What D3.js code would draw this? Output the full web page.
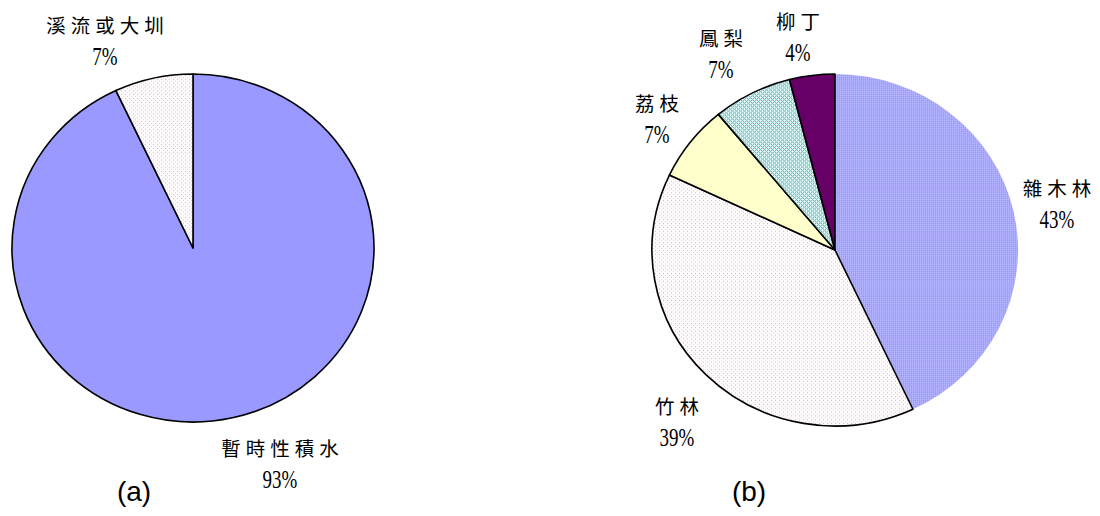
<!DOCTYPE html>
<html>
<head>
<meta charset="utf-8">
<script src="https://cdn.jsdelivr.net/npm/d3@7"></script>
<style>
  body { margin: 0; background: #fff; }
  svg { display: block; }
</style>
</head>
<body>
<svg id="chart" width="1100" height="516"></svg>
<script>
// chart (a)
const namesA = ['暫時性積水', '溪流或大圳'];
const valuesA = [93, 7];
// chart (b)
const namesB = ['雜木林', '竹林', '荔枝', '鳳梨', '柳丁'];
const valuesB = [43, 39, 7, 7, 4];

const svg = d3.select('#chart');
const defs = svg.append('defs');

// dotted fills, like the old office-chart textures
function dotPattern(id, bg, dots, size) {
  const p = defs.append('pattern')
    .attr('id', id)
    .attr('patternUnits', 'userSpaceOnUse')
    .attr('width', size)
    .attr('height', size);
  p.append('rect').attr('width', size).attr('height', size).attr('fill', bg);
  dots.forEach(d => {
    p.append('rect').attr('x', d[0]).attr('y', d[1]).attr('width', 1).attr('height', 1).attr('fill', d[2]);
  });
}
dotPattern('pinkDots', '#fffafc', [[0, 0, '#f0a8c4'], [2, 2, '#f4c4d6']], 4);
dotPattern('blueDots', '#aaaaff', [[0, 0, '#9595f5'], [1, 1, '#b8b8ff']], 2);
dotPattern('tealHatch', '#d8eeee', [[0, 0, '#66b8b8'], [2, 0, '#9a9a9a'], [1, 1, '#ffffff'], [3, 1, '#70c8c8'], [0, 2, '#9a9a9a'], [2, 2, '#66b8b8'], [1, 3, '#70c8c8'], [3, 3, '#ffffff']], 4);

const fillsA = ['#9999ff', 'url(#pinkDots)'];
const fillsB = ['url(#blueDots)', 'url(#pinkDots)', '#ffffcc', 'url(#tealHatch)', '#660066'];
const strokeB = [false, true, true, true, true];

// where each label sits (centre of the name line)
const labelPosA = [[280, 447], [105, 24]];
const labelPosB = [[1057, 187], [677, 405], [657, 102], [721, 37], [798, 20]];

const pie = d3.pie().sort(null).value(d => d);

function drawPie(values, fills, strokes, cx, cy, rx, ry) {
  const arc = d3.arc().innerRadius(0).outerRadius(rx);
  const g = svg.append('g')
    .attr('transform', `translate(${cx},${cy}) scale(1,${ry / rx})`);
  g.selectAll('path')
    .data(pie(values))
    .join('path')
    .attr('d', arc)
    .attr('fill', (d, i) => fills[i])
    .attr('stroke', (d, i) => (strokes[i] ? '#000' : 'none'))
    .attr('stroke-width', 1.6)
    .attr('stroke-linejoin', 'round')
    .attr('vector-effect', 'non-scaling-stroke');
}

function drawLabels(names, values, pos) {
  names.forEach((name, i) => {
    const [x, y] = pos[i];
    svg.append('text')
      .attr('x', x + 2.5)
      .attr('y', y)
      .attr('text-anchor', 'middle')
      .attr('dominant-baseline', 'central')
      .attr('font-family', '"Noto Sans CJK TC", sans-serif')
      .attr('font-size', 19.5)
      .attr('letter-spacing', 5)
      .attr('fill', '#000')
      .text(name);
    svg.append('text')
      .attr('transform', `translate(${x},${y + 32}) scale(0.73,1)`)
      .attr('text-anchor', 'middle')
      .attr('dominant-baseline', 'central')
      .attr('font-family', '"Liberation Serif", serif')
      .attr('font-size', 26)
      .attr('fill', '#000')
      .text(values[i] + '%');
  });
}

drawPie(valuesA, fillsA, [true, true], 193, 248, 181, 174);
drawPie(valuesB, fillsB, strokeB, 835, 250, 183, 176);
drawLabels(namesA, valuesA, labelPosA);
drawLabels(namesB, valuesB, labelPosB);

// panel captions
[['(a)', 134], ['(b)', 749]].forEach(c => {
  svg.append('text')
    .attr('x', c[1])
    .attr('y', 491)
    .attr('text-anchor', 'middle')
    .attr('dominant-baseline', 'central')
    .attr('font-family', '"Liberation Sans", Arial, sans-serif')
    .attr('font-size', 28)
    .attr('fill', '#000')
    .text(c[0]);
});
</script>
</body>
</html>
